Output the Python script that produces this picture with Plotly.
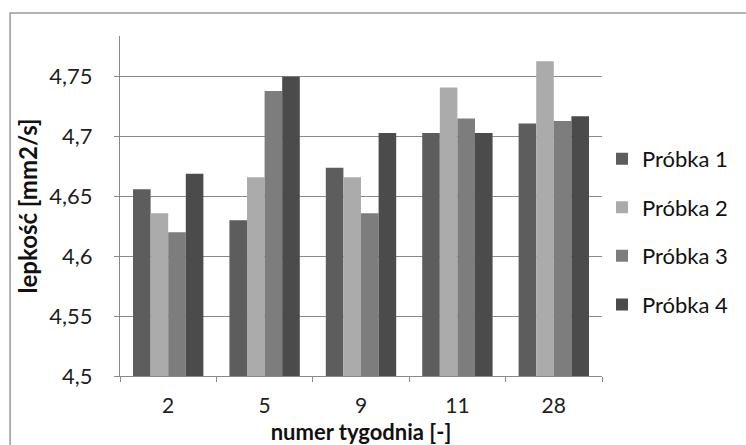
import plotly.graph_objects as go

# Viscosity measured for four samples over successive weeks
weeks = ["2", "5", "9", "11", "28"]
probka_1 = [4.656, 4.630, 4.674, 4.703, 4.711]
probka_2 = [4.636, 4.666, 4.666, 4.741, 4.763]
probka_3 = [4.620, 4.738, 4.636, 4.715, 4.713]
probka_4 = [4.669, 4.750, 4.703, 4.703, 4.717]

series_names = ["Próbka 1", "Próbka 2", "Próbka 3", "Próbka 4"]
series_colors = ["#5d5d5d", "#ababab", "#7d7d7d", "#4b4b4b"]

y_tick_vals = [4.5, 4.55, 4.6, 4.65, 4.7, 4.75]
y_tick_text = ["4,5", "4,55", "4,6", "4,65", "4,7", "4,75"]

FONT = "Lato"
AXIS_GREY = "#8a8a8a"

fig = go.Figure()
for name, values, color in zip(series_names,
                                [probka_1, probka_2, probka_3, probka_4],
                                series_colors):
    fig.add_trace(go.Bar(
        x=weeks, y=values, name=name, legendgroup=name,
        marker=dict(color=color, line=dict(width=0)),
    ))

fig.update_layout(
    width=746, height=445,
    margin=dict(l=120, r=130, t=36, b=69),
    paper_bgcolor="white", plot_bgcolor="white",
    barmode="group", bargap=0.27, bargroupgap=0,
    font=dict(family=FONT, size=22, color="#222222"),
    showlegend=True,
    legend=dict(
        x=1.0, xanchor="left", y=0.424, yanchor="middle",
        font=dict(family=FONT, size=22, color="#111111"),
        tracegroupgap=17, itemwidth=30,
        bgcolor="rgba(0,0,0,0)",
    ),
    xaxis=dict(
        type="category", automargin=False,
        showline=True, linecolor=AXIS_GREY, linewidth=1,
        ticks="outside", tickson="boundaries", ticklen=5,
        tickcolor=AXIS_GREY, ticklabelstandoff=11,
        tickfont=dict(family=FONT, size=21, color="#1e1e1e"),
        showgrid=False,
        title=dict(text="<b>numer tygodnia [-]</b>", standoff=9,
                   font=dict(family=FONT, size=22, color="#111111")),
    ),
    yaxis=dict(
        range=[4.5, 4.784], automargin=False,
        tickvals=y_tick_vals, ticktext=y_tick_text,
        showline=True, linecolor=AXIS_GREY, linewidth=1,
        ticks="outside", ticklen=5, tickcolor=AXIS_GREY,
        ticklabelstandoff=17,
        tickfont=dict(family=FONT, size=22, color="#1e1e1e"),
        showgrid=True, gridcolor=AXIS_GREY, gridwidth=1,
        zeroline=False,
        title=dict(text="<b>lepkość [mm2/s]</b>", standoff=4,
                   font=dict(family=FONT, size=24, color="#111111")),
    ),
)

# Chart frame
fig.add_shape(type="rect", xref="paper", yref="paper",
              x0=-0.228, x1=1.35, y0=-0.35, y1=1.068,
              line=dict(color="#9a9a9a", width=1.5), layer="below")

fig.write_html("out.html")
